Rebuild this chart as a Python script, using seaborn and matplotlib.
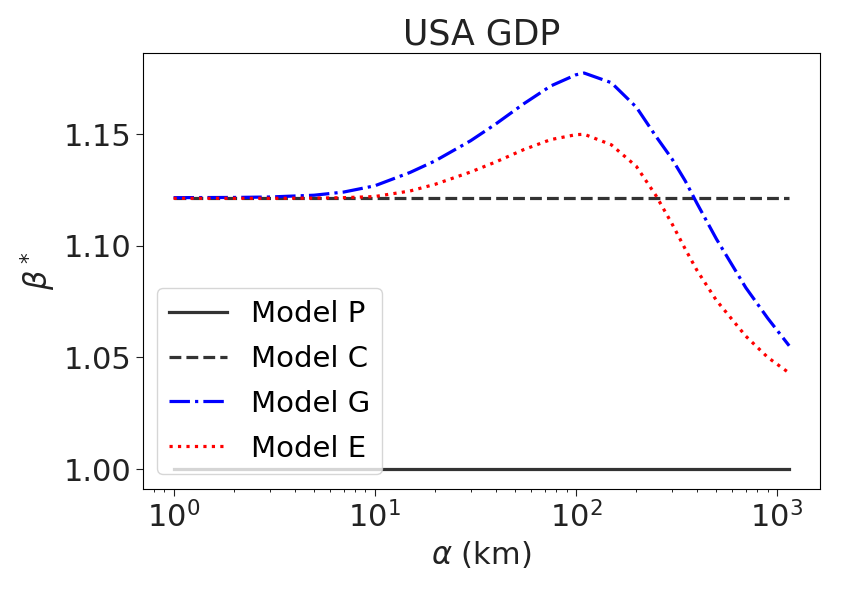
import matplotlib
matplotlib.use('Agg')
import numpy as np
import pandas as pd
import matplotlib.pyplot as plt
import seaborn as sns

# valores
alpha_km = [1, 2, 3, 5, 7, 10, 15, 20, 30, 40, 55, 75, 100, 110, 150, 200, 250, 300, 350, 400, 500, 700, 900, 1150]
beta_g = [1.1215, 1.1216, 1.1218, 1.1226, 1.1240, 1.1268, 1.1328, 1.1380, 1.1470, 1.1545, 1.1635, 1.1715,
          1.1765, 1.1773, 1.1730, 1.1620, 1.1490, 1.1390, 1.1290, 1.1190, 1.1030, 1.0812, 1.0675, 1.0552]
beta_e = [1.1212, 1.1212, 1.1212, 1.1213, 1.1215, 1.1220, 1.1245, 1.1275, 1.1330, 1.1375, 1.1430, 1.1475,
          1.1497, 1.1499, 1.1452, 1.1355, 1.1225, 1.1100, 1.0985, 1.0890, 1.0755, 1.0595, 1.0500, 1.0430]
beta_c = 1.1215
beta_p = 1.0

modelos = ['Model P', 'Model C', 'Model G', 'Model E']
colores = ['#333333', '#333333', 'blue', 'red']
estilos = ['-', '--', '-.', ':']

df = pd.DataFrame({
    'alpha': alpha_km * 4,
    'beta': [beta_p] * len(alpha_km) + [beta_c] * len(alpha_km) + beta_g + beta_e,
    'modelo': np.repeat(modelos, len(alpha_km)),
})

fig, ax = plt.subplots(figsize=(8.55, 6.05), dpi=100)
for m, c, ls in zip(modelos, colores, estilos):
    sns.lineplot(data=df[df['modelo'] == m], x='alpha', y='beta', color=c, linestyle=ls,
                 linewidth=2.3, label=m, ax=ax)

ax.set_xscale('log')
ax.set_yticks([1.00, 1.05, 1.10, 1.15])
ax.tick_params(labelsize=22, colors='#222222', length=5)
ax.set_title('USA GDP', fontsize=25, color='#222222')
ax.set_xlabel(r'$\alpha$ (km)', fontsize=22, color='#222222')
ax.set_ylabel(r'$\beta^*$', fontsize=22, color='#222222')
ax.legend(loc='lower left', fontsize=21, labelspacing=0.58)

fig.subplots_adjust(left=0.167, right=0.959, bottom=0.192, top=0.912)
plt.savefig('out.png', dpi=100)
plt.close()
